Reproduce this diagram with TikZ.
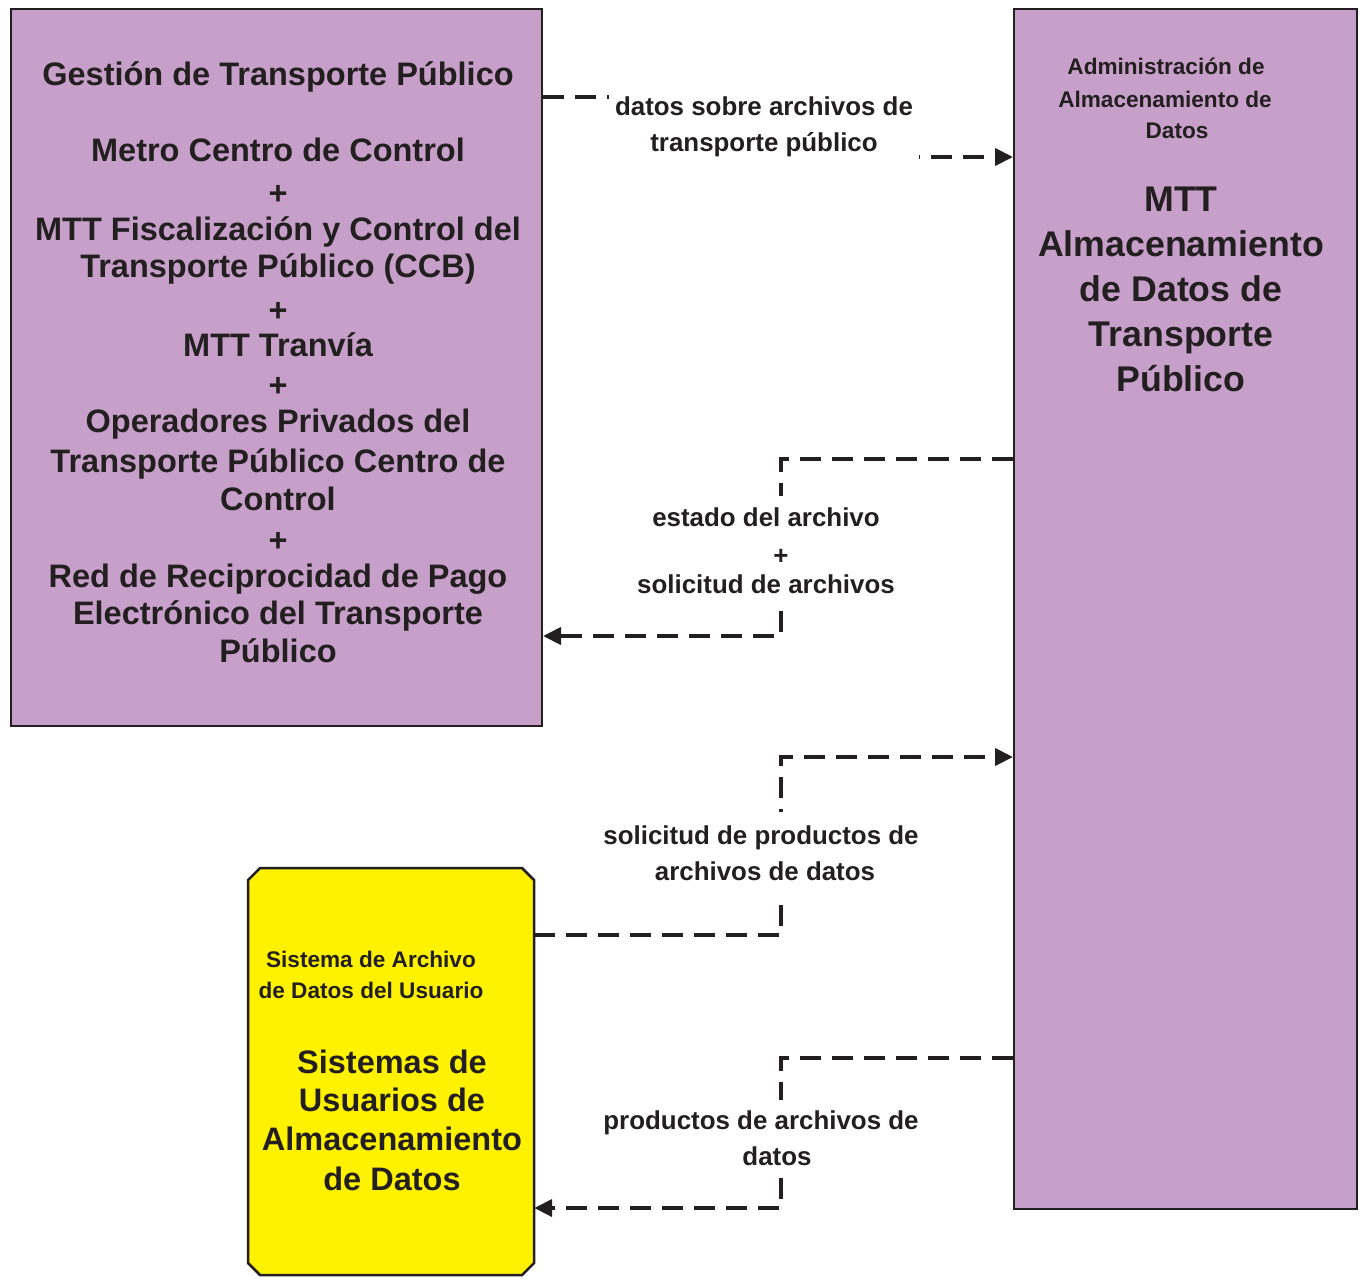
\documentclass[tikz,border=0pt]{standalone}
\usepackage{fontspec}
\setmainfont{Liberation Sans}
\usetikzlibrary{arrows.meta}
\definecolor{ink}{HTML}{231F20}
\definecolor{lilac}{RGB}{198,160,201}
\definecolor{ylw}{HTML}{FFF200}
\newcommand{\fbig}{\bfseries\fontsize{32.5}{38}\selectfont}
\newcommand{\ftitle}{\bfseries\fontsize{35.7}{45}\selectfont}
\newcommand{\flab}{\bfseries\fontsize{25.9}{36}\selectfont}
\newcommand{\fsmall}{\bfseries\fontsize{22.6}{32}\selectfont}
\begin{document}
\begin{tikzpicture}[x=1pt,y=-1pt,
  sysbox/.style={draw=ink,line width=2pt,fill=lilac,inner sep=0pt,anchor=north west},
  ghost/.style={inner sep=0pt},
  bigt/.style={text=ink,font=\fbig,inner sep=0pt,anchor=base},
  titlet/.style={text=ink,font=\ftitle,inner sep=0pt,anchor=base},
  smallt/.style={text=ink,font=\fsmall,inner sep=0pt,anchor=base},
  lbl/.style={text=ink,font=\flab,fill=white,inner sep=0pt,align=center},
  flow/.style={draw=ink,line width=4pt,dash pattern=on 21pt off 11pt,-{Triangle[length=18pt,width=17pt]}}]
\useasboundingbox (0,0) rectangle (1362,1283);
% boxes
\node[sysbox,minimum width=531pt,minimum height=717pt] (gtp) at (10,8) {};
\node[sysbox,minimum width=343pt,minimum height=1200pt] (mtt) at (1013,8) {};
\filldraw[draw=ink,line width=2.5pt,fill=ylw] (248,880) -- (260,868) -- (522,868) -- (534,880) -- (534,1263) -- (522,1275) -- (260,1275) -- (248,1263) -- cycle;
\node[ghost,minimum width=286pt,minimum height=407pt] (usr) at (391,1071.5) {};
% left box text
\foreach \yy/\s [count=\i] in {74/{Gestión de Transporte Público},150/{Metro Centro de Control},193/{+},229/{MTT Fiscalización y Control del},266/{Transporte Público (CCB)},310/{+},345/{MTT Tranvía},385/{+},421/{Operadores Privados del},461/{Transporte Público Centro de},499/{Control},540/{+},576/{Red de Reciprocidad de Pago},613/{Electrónico del Transporte},651/{Público}}
  \node[bigt] (gt\i) at (278,\yy+11.7) {\s};
% right box text
\node[smallt] (ms1) at (1166,66+8.1) {Administración de};
\node[smallt] (ms2) at (1165,99+8.1) {Almacenamiento de};
\node[smallt] (ms3) at (1177,130+8.1) {Datos};
\foreach \yy/\s [count=\i] in {199/{MTT},244/{Almacenamiento},289/{de Datos de},334/{Transporte},379/{Público}}
  \node[titlet] (mt\i) at (1181,\yy+12.9) {\s};
% yellow box text
\node[smallt] (us1) at (371,959+8.1) {Sistema de Archivo};
\node[smallt] (us2) at (371,990+8.1) {de Datos del Usuario};
\foreach \yy/\s [count=\i] in {1062/{Sistemas de},1100/{Usuarios de},1139/{Almacenamiento},1179/{de Datos}}
  \node[bigt] (ut\i) at (392,\yy+11.7) {\s};
% connectors
\draw[flow] (gtp.east |- 0,97) -- (900,97) -- (900,157) -- (mtt.west |- 0,157);
\draw[flow] (mtt.west |- 0,459) -- (781,459) -- (781,636) -- (gtp.east |- 0,636);
\draw[flow] (usr.east |- 0,935) -- (781,935) -- (781,757) -- (mtt.west |- 0,757);
\draw[flow] (mtt.west |- 0,1058) -- (781,1058) -- (781,1208) -- (usr.east |- 0,1208);
% labels
\node[lbl,minimum width=310pt,minimum height=84pt] (l1) at (764,127) {datos sobre archivos de\\transporte público};
\node[lbl,minimum height=110pt] (l2) at (766,551) {estado del archivo\\[2pt]\hspace*{30pt}+\\[-7pt]solicitud de archivos};
\node[lbl,minimum height=82pt] (l3) at (761,853) {solicitud de productos de\\\hspace*{8pt}archivos de datos};
\node[lbl,minimum height=76pt] (l4) at (761,1138) {productos de archivos de\\\hspace*{32pt}datos};
\end{tikzpicture}
\end{document}
